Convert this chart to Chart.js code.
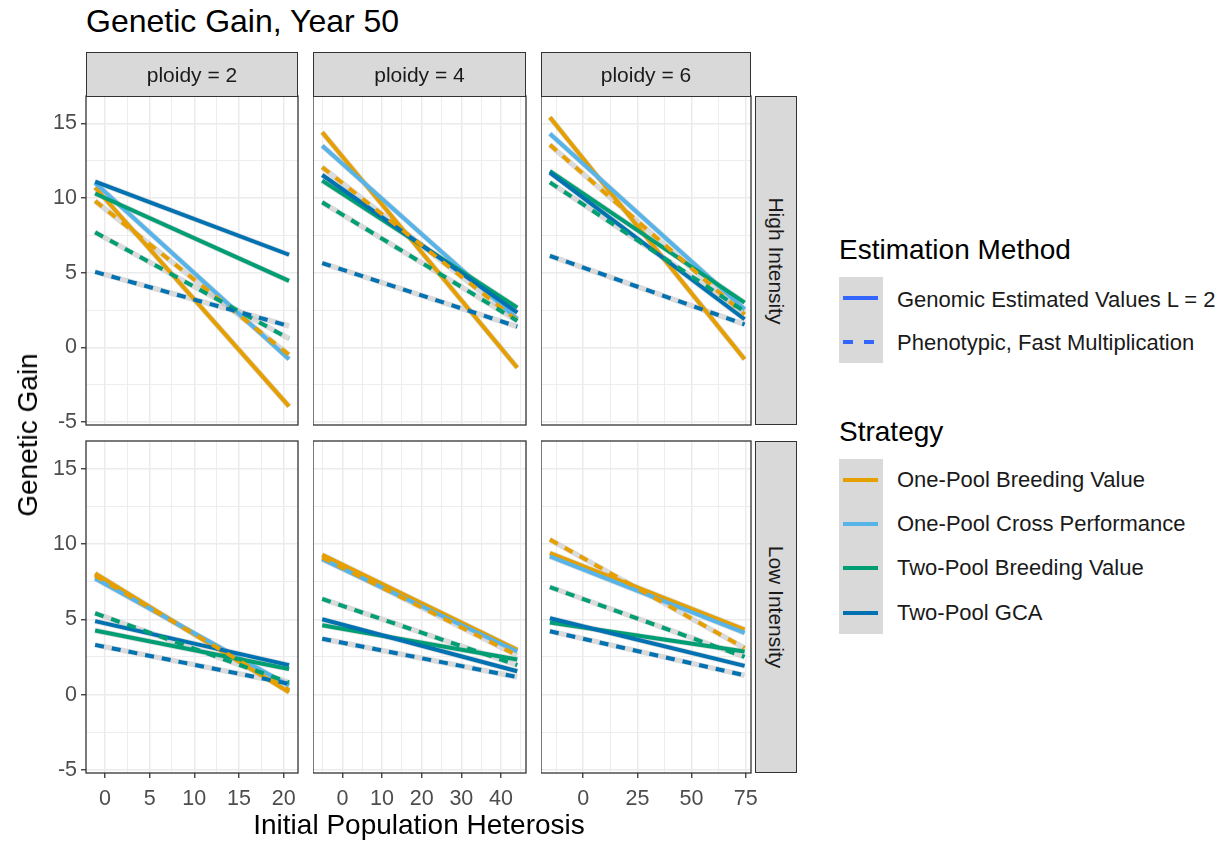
<!DOCTYPE html>
<html><head><meta charset="utf-8">
<script src="https://cdn.jsdelivr.net/npm/chart.js@4.4.1/dist/chart.umd.min.js"></script>
<style>
body{margin:0;background:#fff;width:1228px;height:841px;overflow:hidden;position:relative;font-family:"Liberation Sans",Arial,sans-serif;}
canvas{position:absolute;}
.t{position:absolute;line-height:1;white-space:nowrap;color:#000;}
.strip{position:absolute;background:#D9D9D9;border:1.3px solid #333;box-sizing:border-box;display:flex;align-items:center;justify-content:center;color:#1A1A1A;font-size:21px;}
.key{position:absolute;background:#D9D9D9;}
.kl{position:absolute;height:4px;}
</style></head><body>
<script>
// ---------- data ----------
const ploidyLabels = ['ploidy = 2', 'ploidy = 4', 'ploidy = 6'];
const intensityLabels = ['High Intensity', 'Low Intensity'];
const strategies = ['One-Pool Breeding Value', 'One-Pool Cross Performance', 'Two-Pool Breeding Value', 'Two-Pool GCA'];
const methods = ['Genomic Estimated Values L = 2', 'Phenotypic, Fast Multiplication'];

// x (Initial Population Heterosis) extent of fitted lines per ploidy
const heterosisP2 = [-1.1, 20.6];
const heterosisP4 = [-5.1, 44.1];
const heterosisP6 = [-15.4, 74.5];

// axis ticks
const xMajorP2 = [0, 5, 10, 15, 20];
const xGridP2 = [0, 2.5, 5, 7.5, 10, 12.5, 15, 17.5, 20];
const xMajorP4 = [0, 10, 20, 30, 40];
const xGridP4 = [-5, 0, 5, 10, 15, 20, 25, 30, 35, 40, 45];
const xMajorP6 = [0, 25, 50, 75];
const xGridP6 = [-12.5, 0, 12.5, 25, 37.5, 50, 62.5, 75];
const yMajor = [-5, 0, 5, 10, 15];
const yGrid = [-5, -2.5, 0, 2.5, 5, 7.5, 10, 12.5, 15];

// Genetic Gain, [start, end] of each fitted line. gev = genomic (solid), pfm = phenotypic (dashed)
const hiP2_opbv_gev = [10.7, -3.95];
const hiP2_opcp_gev = [11.0, -0.8];
const hiP2_tpbv_gev = [10.3, 4.45];
const hiP2_gca_gev  = [11.1, 6.2];
const hiP2_opbv_pfm = [9.8, -0.5];
const hiP2_tpbv_pfm = [7.7, 0.58];
const hiP2_gca_pfm  = [5.05, 1.43];

const hiP4_opbv_gev = [14.4, -1.36];
const hiP4_opcp_gev = [13.5, 1.9];
const hiP4_tpbv_gev = [11.16, 2.66];
const hiP4_gca_gev  = [11.54, 2.33];
const hiP4_opbv_pfm = [12.06, 1.8];
const hiP4_tpbv_pfm = [9.71, 1.77];
const hiP4_gca_pfm  = [5.64, 1.39];

const hiP6_opbv_gev = [15.4, -0.8];
const hiP6_opcp_gev = [14.3, 2.55];
const hiP6_tpbv_gev = [11.8, 3.0];
const hiP6_gca_gev  = [11.7, 1.88];
const hiP6_opbv_pfm = [13.56, 2.2];
const hiP6_tpbv_pfm = [11.05, 2.4];
const hiP6_gca_pfm  = [6.13, 1.54];

const loP2_opbv_gev = [8.04, 0.16];
const loP2_opcp_gev = [7.7, 0.6];
const loP2_tpbv_gev = [4.26, 1.7];
const loP2_gca_gev  = [4.88, 1.96];
const loP2_opbv_pfm = [7.9, 0.3];
const loP2_tpbv_pfm = [5.4, 0.8];
const loP2_gca_pfm  = [3.3, 0.72];

const loP4_opbv_gev = [9.28, 2.97];
const loP4_opcp_gev = [8.99, 2.86];
const loP4_tpbv_gev = [4.6, 2.33];
const loP4_gca_gev  = [5.0, 1.55];
const loP4_opbv_pfm = [9.1, 2.6];
const loP4_tpbv_pfm = [6.35, 1.96];
const loP4_gca_pfm  = [3.71, 1.17];

const loP6_opbv_gev = [9.39, 4.32];
const loP6_opcp_gev = [9.17, 4.1];
const loP6_tpbv_gev = [4.78, 2.86];
const loP6_gca_gev  = [5.07, 1.91];
const loP6_opbv_pfm = [10.29, 3.09];
const loP6_tpbv_pfm = [7.14, 2.5];
const loP6_gca_pfm  = [4.21, 1.28];

// ---------- styling / layout ----------
const FONT = '"Liberation Sans", Arial, sans-serif';
const COLORS = ['#E69F00', '#56B4E9', '#009E73', '#0072B2'];
const cols = [{L:86, R:298}, {L:313, R:526}, {L:541, R:751}];
const rows = [{T:96, B:425}, {T:441, B:773}];
const yLim = [-5.2, 16.83];
const xLims = [[-2.12, 21.6], [-7.42, 46.3], [-19.5, 77.45]];

const panelDefs = [
  {r:0, c:0, x:heterosisP2, xm:xMajorP2, xg:xGridP2, gev:[hiP2_opbv_gev, hiP2_opcp_gev, hiP2_tpbv_gev, hiP2_gca_gev], pfm:[hiP2_opbv_pfm, null, hiP2_tpbv_pfm, hiP2_gca_pfm]},
  {r:0, c:1, x:heterosisP4, xm:xMajorP4, xg:xGridP4, gev:[hiP4_opbv_gev, hiP4_opcp_gev, hiP4_tpbv_gev, hiP4_gca_gev], pfm:[hiP4_opbv_pfm, null, hiP4_tpbv_pfm, hiP4_gca_pfm]},
  {r:0, c:2, x:heterosisP6, xm:xMajorP6, xg:xGridP6, gev:[hiP6_opbv_gev, hiP6_opcp_gev, hiP6_tpbv_gev, hiP6_gca_gev], pfm:[hiP6_opbv_pfm, null, hiP6_tpbv_pfm, hiP6_gca_pfm]},
  {r:1, c:0, x:heterosisP2, xm:xMajorP2, xg:xGridP2, gev:[loP2_opbv_gev, loP2_opcp_gev, loP2_tpbv_gev, loP2_gca_gev], pfm:[loP2_opbv_pfm, null, loP2_tpbv_pfm, loP2_gca_pfm]},
  {r:1, c:1, x:heterosisP4, xm:xMajorP4, xg:xGridP4, gev:[loP4_opbv_gev, loP4_opcp_gev, loP4_tpbv_gev, loP4_gca_gev], pfm:[loP4_opbv_pfm, null, loP4_tpbv_pfm, loP4_gca_pfm]},
  {r:1, c:2, x:heterosisP6, xm:xMajorP6, xg:xGridP6, gev:[loP6_opbv_gev, loP6_opcp_gev, loP6_tpbv_gev, loP6_gca_gev], pfm:[loP6_opbv_pfm, null, loP6_tpbv_pfm, loP6_gca_pfm]},
];

const panelPlugin = {
  id: 'panelFrame',
  beforeDraw(chart) {
    const a = chart.chartArea, ctx = chart.ctx;
    ctx.save(); ctx.fillStyle = '#FFFFFF'; ctx.fillRect(a.left, a.top, a.right - a.left, a.bottom - a.top); ctx.restore();
  },
  afterDraw(chart) {
    const a = chart.chartArea, ctx = chart.ctx;
    ctx.save(); ctx.strokeStyle = '#333333'; ctx.lineWidth = 1.3;
    ctx.strokeRect(a.left, a.top, a.right - a.left, a.bottom - a.top); ctx.restore();
  }
};

panelDefs.forEach(p => {
  const col = cols[p.c], row = rows[p.r];
  const yW = p.c === 0 ? 86 : 0;
  const xH = p.r === 1 ? 45 : 0;
  const padR = 20;
  const padB = p.r === 0 ? 14 : 0;
  const padT = 12;
  const left = col.L - yW, top = row.T - padT;
  const w = col.R - left + padR, h = row.B - top + xH + padB;
  const cv = document.createElement('canvas');
  cv.width = w; cv.height = h;
  cv.style.left = left + 'px'; cv.style.top = top + 'px';
  cv.style.width = w + 'px'; cv.style.height = h + 'px';
  document.body.appendChild(cv);

  const mk = (vals) => p.x.map((xv, i) => ({x: xv, y: vals[i]}));
  const datasets = [];
  let k = 0;
  // grey confidence-band look underneath all lines
  [...p.gev, ...p.pfm].forEach(v => {
    if (!v) return;
    datasets.push({data: mk(v), borderColor: 'rgba(195,195,195,0.6)', borderWidth: 5.5, pointRadius: 0, order: 1000 - (k++), borderCapStyle: 'butt'});
  });
  p.gev.forEach((v, si) => {
    if (!v) return;
    datasets.push({label: strategies[si] + ' / ' + methods[0], data: mk(v), borderColor: COLORS[si], borderWidth: 4, pointRadius: 0, order: 1000 - (k++), borderCapStyle: 'butt'});
  });
  p.pfm.forEach((v, si) => {
    if (!v) return;
    datasets.push({label: strategies[si] + ' / ' + methods[1], data: mk(v), borderColor: COLORS[si], borderWidth: 4, borderDash: [9, 8], pointRadius: 0, order: 1000 - (k++), borderCapStyle: 'butt'});
  });

  const xl = xLims[p.c];
  new Chart(cv, {
    type: 'line',
    data: {datasets},
    options: {
      responsive: false, animation: false, devicePixelRatio: 1,
      layout: {padding: {left: 0, right: padR, top: padT, bottom: padB}},
      plugins: {legend: {display: false}, tooltip: {enabled: false}},
      elements: {point: {radius: 0}, line: {tension: 0}},
      scales: {
        x: {
          type: 'linear', min: xl[0], max: xl[1],
          afterBuildTicks: s => { s.ticks = p.xg.map(v => ({value: v})); },
          afterFit: s => { s.height = xH; s.paddingLeft = 0; s.paddingRight = 0; },
          ticks: {display: p.r === 1, autoSkip: false, maxRotation: 0, minRotation: 0, color: '#4D4D4D', padding: 8,
                  font: {size: 21.5, family: FONT},
                  callback: v => p.xm.includes(v) ? String(v) : ''},
          grid: {color: '#EBEBEB', lineWidth: c => (c.tick && p.xm.includes(c.tick.value)) ? 1.5 : 0.9,
                 drawTicks: p.r === 1, tickLength: 5, tickWidth: 1.3,
                 tickColor: c => (c.tick && p.xm.includes(c.tick.value)) ? '#333333' : 'rgba(0,0,0,0)'},
          border: {display: false}
        },
        y: {
          type: 'linear', min: yLim[0], max: yLim[1],
          afterBuildTicks: s => { s.ticks = yGrid.map(v => ({value: v})); },
          afterFit: s => { s.width = yW; s.paddingTop = 0; s.paddingBottom = 0; },
          ticks: {display: p.c === 0, autoSkip: false, color: '#4D4D4D', padding: 4,
                  font: {size: 21.5, family: FONT},
                  callback: v => yMajor.includes(v) ? String(v) : ''},
          grid: {color: '#EBEBEB', lineWidth: c => (c.tick && yMajor.includes(c.tick.value)) ? 1.5 : 0.9,
                 drawTicks: p.c === 0, tickLength: 5, tickWidth: 1.3,
                 tickColor: c => (c.tick && yMajor.includes(c.tick.value)) ? '#333333' : 'rgba(0,0,0,0)'},
          border: {display: false}
        }
      }
    },
    plugins: [panelPlugin]
  });
});

// ---------- text, strips, legend ----------
function txt(s, left, top, size, extra) {
  const d = document.createElement('div');
  d.className = 't'; d.textContent = s;
  d.style.left = left + 'px'; d.style.top = top + 'px'; d.style.fontSize = size + 'px';
  if (extra) Object.assign(d.style, extra);
  document.body.appendChild(d);
  return d;
}
function box(cls, l, t, w, h, bg) {
  const d = document.createElement('div');
  d.className = cls;
  Object.assign(d.style, {left: l + 'px', top: t + 'px', width: w + 'px', height: h + 'px'});
  if (bg) d.style.background = bg;
  document.body.appendChild(d);
  return d;
}

txt('Genetic Gain, Year 50', 86, 5, 32);

cols.forEach((c, i) => {
  const s = box('strip', c.L, 52, c.R - c.L, 45);
  s.textContent = ploidyLabels[i];
});
rows.forEach((r, i) => {
  const s = box('strip', 755, r.T, 42, r.B - r.T);
  const sp = document.createElement('span');
  sp.textContent = intensityLabels[i];
  sp.style.transform = 'rotate(90deg)'; sp.style.whiteSpace = 'nowrap'; sp.style.display = 'inline-block';
  s.appendChild(sp);
});

txt('Genetic Gain', 28, 435, 28, {transform: 'translate(-50%,-50%) rotate(-90deg)'});
txt('Initial Population Heterosis', 419, 811, 28, {transform: 'translateX(-50%)'});

// legend: estimation method
txt('Estimation Method', 839, 236, 28);
box('key', 839, 277, 44, 86);
box('kl', 843, 296, 35, 4, '#3366FF');
box('kl', 843, 340, 10, 4, '#3366FF');
box('kl', 864, 340, 10, 4, '#3366FF');
txt(methods[0], 897, 289, 22, {color: '#1A1A1A'});
txt(methods[1], 897, 332, 22, {color: '#1A1A1A'});

// legend: strategy
txt('Strategy', 839, 418, 28);
box('key', 839, 459, 44, 175);
const keyY = [478, 522, 566, 611];
strategies.forEach((s, i) => {
  box('kl', 843, keyY[i], 35, 4, COLORS[i]);
  txt(s, 897, keyY[i] - 9, 22, {color: '#1A1A1A'});
});
</script>
</body></html>
